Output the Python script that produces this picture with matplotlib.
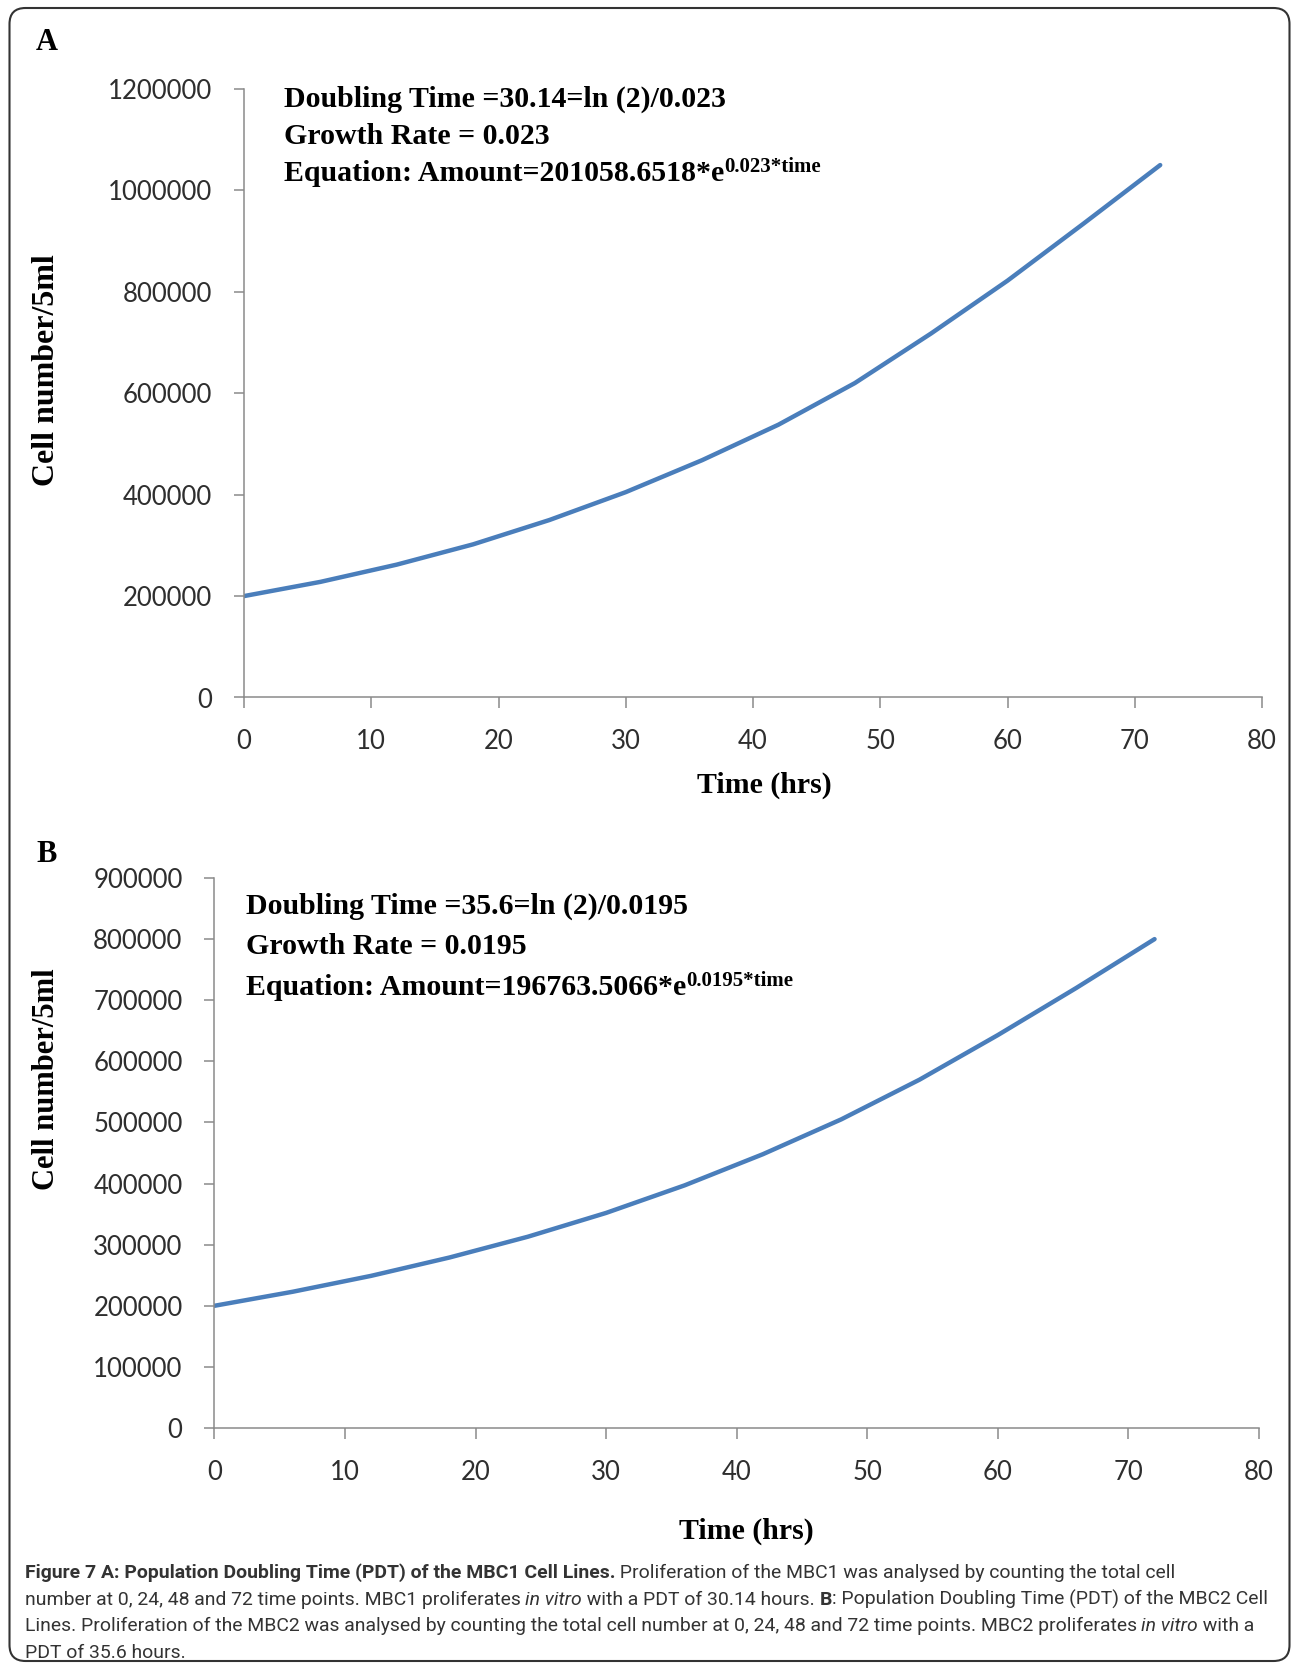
import matplotlib
matplotlib.use("Agg")
import matplotlib.pyplot as plt
from matplotlib import font_manager
from matplotlib.patches import FancyBboxPatch
from matplotlib.transforms import IdentityTransform

# values (hours -> cells per 5 ml)
hours = [0, 6, 12, 18, 24, 30, 36, 42, 48, 54, 60, 66, 72]
mbc1_cells = [200000, 228000, 262000, 302000, 350000, 405000, 468000,
              538000, 620000, 718000, 822000, 935000, 1050000]
mbc2_cells = [200000, 223000, 249000, 279000, 313000, 352000, 397000,
              448000, 505000, 570000, 643000, 720000, 800000]

x_ticks = [0, 10, 20, 30, 40, 50, 60, 70, 80]
mbc1_y_ticks = [0, 200000, 400000, 600000, 800000, 1000000, 1200000]
mbc2_y_ticks = [0, 100000, 200000, 300000, 400000, 500000, 600000, 700000, 800000, 900000]

mbc1_notes = ["Doubling Time =30.14=ln (2)/0.023", "Growth Rate = 0.023",
              "Equation: Amount=201058.6518*e"]
mbc1_exponent = "0.023*time"
mbc2_notes = ["Doubling Time =35.6=ln (2)/0.0195", "Growth Rate = 0.0195",
              "Equation: Amount=196763.5066*e"]
mbc2_exponent = "0.0195*time"

caption_lines = [
    [("Figure 7 A: Population Doubling Time (PDT) of the MBC1 Cell Lines.", "bold", "normal"),
     (" Proliferation of the MBC1 was analysed by counting the total cell", "normal", "normal")],
    [("number at 0, 24, 48 and 72 time points. MBC1 proliferates ", "normal", "normal"),
     ("in vitro", "normal", "italic"),
     (" with a PDT of 30.14 hours. ", "normal", "normal"),
     ("B", "bold", "normal"),
     (": Population Doubling Time (PDT) of the MBC2 Cell", "normal", "normal")],
    [("Lines. Proliferation of the MBC2 was analysed by counting the total cell number at 0, 24, 48 and 72 time points. MBC2 proliferates ", "normal", "normal"),
     ("in vitro", "normal", "italic"),
     (" with a", "normal", "normal")],
    [("PDT of 35.6 hours.", "normal", "normal")],
]

W, H = 1293, 1667
SERIF = "Liberation Serif"
TICK_FONT = "Lato"
AXIS_GREY = "#8a8a8a"
LINE_BLUE = "#4a7ebb"

try:
    font_manager.findfont(font_manager.FontProperties(family="Liberation Sans Narrow"),
                          fallback_to_default=False)
    CAPTION_FONT = "Liberation Sans Narrow"
except ValueError:
    CAPTION_FONT = "Roboto"

fig = plt.figure(figsize=(W / 100, H / 100), dpi=100)
renderer = fig.canvas.get_renderer()


def px(x, y):
    # pixel position (from top left) -> figure fraction
    return x / W, 1 - y / H


def panel(rect, values, y_ticks):
    left, top, right, bottom = rect
    ax = fig.add_axes([left / W, 1 - bottom / H, (right - left) / W, (bottom - top) / H])
    ax.plot(hours, values, color=LINE_BLUE, lw=3.2, solid_capstyle="round",
            solid_joinstyle="round")
    ax.set_xlim(0, 80)
    ax.set_ylim(0, y_ticks[-1])
    ax.set_xticks(x_ticks, [str(t) for t in x_ticks])
    ax.set_yticks(y_ticks, [str(t) for t in y_ticks])
    for side in ["top", "right"]:
        ax.spines[side].set_visible(False)
    for side in ["left", "bottom"]:
        ax.spines[side].set_color(AXIS_GREY)
        ax.spines[side].set_linewidth(1.1)
    ax.tick_params(axis="both", direction="out", color=AXIS_GREY, width=1.1,
                   labelsize=18.5, labelcolor="#2e2e2e")
    ax.tick_params(axis="y", length=7, pad=16)
    ax.tick_params(axis="x", length=8, pad=15)
    for lab in ax.get_xticklabels() + ax.get_yticklabels():
        lab.set_fontfamily(TICK_FONT)
    return ax


def notes(x, baselines, lines, exponent):
    for y, line in zip(baselines, lines):
        t = fig.text(*px(x, y), line, family=SERIF, weight="bold", fontsize=21.5,
                     va="baseline", ha="left", color="black")
    ext = t.get_window_extent(renderer)
    fig.text(ext.x1 / W, 1 - (baselines[-1] - 9) / H, exponent, family=SERIF,
             weight="bold", fontsize=15, va="baseline", ha="left", color="black")


panel((244, 89, 1262, 697.5), mbc1_cells, mbc1_y_ticks)
panel((214.5, 878, 1259, 1428), mbc2_cells, mbc2_y_ticks)

fig.text(*px(47, 42), "A", family=SERIF, weight="bold", fontsize=22, ha="center", va="center")
fig.text(*px(47, 854), "B", family=SERIF, weight="bold", fontsize=22, ha="center", va="center")

fig.text(*px(47, 370), "Cell number/5ml", family=SERIF, weight="bold", fontsize=23,
         rotation=90, ha="center", va="center")
fig.text(*px(47, 1079), "Cell number/5ml", family=SERIF, weight="bold", fontsize=22,
         rotation=90, ha="center", va="center")
fig.text(*px(764, 785), "Time (hrs)", family=SERIF, weight="bold", fontsize=21.5,
         ha="center", va="center")
fig.text(*px(746, 1531), "Time (hrs)", family=SERIF, weight="bold", fontsize=21.5,
         ha="center", va="center")

notes(284, [107, 144, 181], mbc1_notes, mbc1_exponent)
notes(246, [914, 954, 995], mbc2_notes, mbc2_exponent)


# caption: runs of bold / italic text chained along each line
def caption_line(runs, x, y, size):
    texts = []
    for s, weight, style in runs:
        t = fig.text(x / W, 1 - y / H, s, family=CAPTION_FONT, weight=weight, style=style,
                     fontsize=size, va="baseline", ha="left", color="#333333")
        x = t.get_window_extent(renderer).x1
        texts.append(t)
    return texts, x


CAP_X = 24.5
line_ends = [1220, 1272, 1261]
sizes = []
for runs, end in zip(caption_lines[:3], line_ends):
    probe, right = caption_line(runs, CAP_X, 1578, 14)
    for t in probe:
        t.remove()
    sizes.append(14 * (end - CAP_X) / (right - CAP_X))
cap_size = min(sizes)

for runs, y in zip(caption_lines, [1578, 1604.5, 1631, 1657.5]):
    caption_line(runs, CAP_X, y, cap_size)

frame = FancyBboxPatch((9.5, H - 1661), 1280, 1653,
                       boxstyle="round,pad=0,rounding_size=16",
                       transform=IdentityTransform(), fill=False,
                       edgecolor="#333333", linewidth=1.5)
fig.add_artist(frame)

fig.savefig("out.png", dpi=100)
